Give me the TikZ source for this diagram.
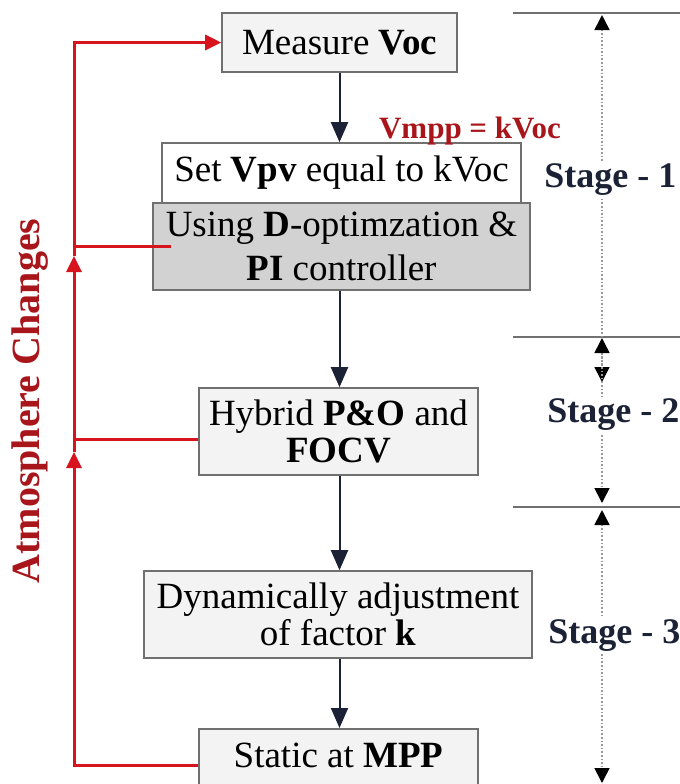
\documentclass[tikz,border=0pt]{standalone}
\usepackage{fontspec}
\setmainfont{Liberation Serif}
\usetikzlibrary{arrows.meta,calc}
\definecolor{fbred}{HTML}{D7141E}
\definecolor{lblred}{HTML}{A8161C}
\definecolor{navy}{HTML}{1B2236}
\definecolor{boxfill}{HTML}{F3F3F3}
\definecolor{boxgray}{HTML}{D2D2D2}
\definecolor{edge}{HTML}{707070}

\begin{document}
\begin{tikzpicture}[x=0.5pt, y=-0.5pt, font=\fontsize{18.5}{18.5}\selectfont,
  blk/.style={draw=edge, line width=0.8pt, fill=boxfill, align=center, inner sep=0pt},
  flow/.style={navy, line width=1pt, -{Triangle[width=8.5pt,length=10pt]}},
  fb/.style={fbred, line width=1.5pt},
  fbtip/.style={-{Triangle[width=7.5pt,length=8pt]}},
  dim/.style={gray!80, line width=0.8pt, densely dotted,
    {Triangle[width=7.5pt,length=7.5pt,color=black]}-{Triangle[width=7.5pt,length=7.5pt,color=black]}},
  stg/.style={font=\fontsize{18}{18}\selectfont\bfseries, text=navy, fill=white, inner sep=1pt, anchor=west}]
\useasboundingbox (0,0) rectangle (680,784);
% stage rulers on the right
\foreach \y in {13,337,507} \draw[edge, line width=0.8pt] (513,\y) -- (680,\y);
\draw[dim] (602,15) -- (602,382);
\draw[dim] (602,338) -- (602,503);
\draw[dim] (602,510) -- (602,783);
\foreach \n/\x/\y in {1/542/180, 2/545/415, 3/546/636}
  \node[stg] (stage\n) at (\x,\y) {Stage - \n};
% the steps
\node[blk, minimum width=117.5pt, minimum height=29.5pt] (meas) at (339.5,42.5) {Measure \textbf{Voc}};
\node[blk, fill=white, minimum width=179.5pt, minimum height=30pt] (setv) at (341.5,173) {Set \textbf{Vpv} equal to kVoc};
\node[blk, fill=boxgray, minimum width=188.5pt, minimum height=43.5pt] (usin) at (341.5,246.5) {Using \textbf{D}-optimzation \&\\[3.5pt]\textbf{PI} controller};
\node[blk, minimum width=139.5pt, minimum height=43.5pt] (hyb) at (338.5,431.5) {Hybrid \textbf{P\&O} and\\\textbf{FOCV}};
\node[blk, minimum width=194pt, minimum height=43.5pt] (dyn) at (338,614.5) {Dynamically adjustment\\of factor \textbf{k}};
\node[blk, anchor=north, minimum width=139.5pt, minimum height=40pt, text depth=13.2pt] (stat) at (338.5,728) {Static at \textbf{MPP}};
\node[anchor=base west, text=lblred, font=\fontsize{15.5}{15.5}\selectfont\bfseries] (vmpp) at (372,138) {Vmpp = kVoc};
\draw[flow] (meas.south) -- (meas.south |- setv.north);
\draw[flow] (usin.south -| meas.south) -- (meas.south |- hyb.north);
\draw[flow] (hyb.south -| meas.south) -- (meas.south |- dyn.north);
\draw[flow] (dyn.south -| meas.south) -- (meas.south |- stat.north);
% feedback when the atmosphere changes
\coordinate (rail) at (74,0);
\coordinate (tipA) at (74,256);
\coordinate (tipB) at (74,452);
\draw[fb] ([xshift=9.5pt]usin.west) -- (usin.west -| rail);
\draw[fb] ([yshift=-4pt]hyb.west) -- ([yshift=-4pt]hyb.west -| rail);
\draw[fb, fbtip] ([yshift=1.5pt]stat.west) -| (tipB);
\draw[fb, fbtip] (tipB) -- (tipA);
\draw[fb, fbtip] (tipA) |- (meas.west);
\node[rotate=90, text=lblred, font=\fontsize{20}{20}\selectfont\bfseries] (atmo) at (30,401) {Atmosphere Changes};
\end{tikzpicture}
\end{document}
